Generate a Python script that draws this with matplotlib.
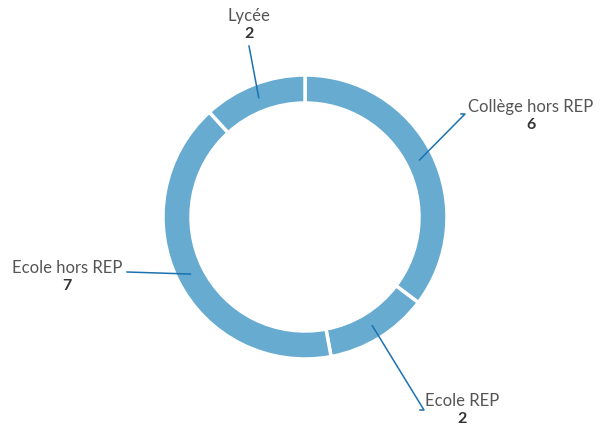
import numpy as np
import matplotlib.pyplot as plt

labels = ["Collège hors REP", "Ecole REP", "Ecole hors REP", "Lycée"]
values = [6, 2, 7, 2]

# label placement (pixels, y from top): text centre and leader-line elbow
text_pos = [(531, 107), (462, 401), (67, 268), (249, 16)]
elbows = [[(465, 115), (461, 115)], [(424, 411), (420, 411)], [(127, 273)], [(249, 47)]]

W, H = 616, 427
fig = plt.figure(figsize=(W / 100, H / 100), dpi=100)
ax = fig.add_axes([0, 0, 1, 1])
ax.set_xlim(0, W)
ax.set_ylim(0, H)
ax.set_aspect('equal')
ax.axis('off')

cx, cy = 305, H - 218
r_out, width = 142, 28
ring = '#67abd1'
line_c = '#1a72b0'

ax.pie(values, center=(cx, cy), radius=r_out, startangle=90, counterclock=False,
       colors=[ring] * len(values),
       wedgeprops=dict(width=width, edgecolor='white', linewidth=2.5))
ax.set_xlim(0, W)
ax.set_ylim(0, H)

total = sum(values)
cum = np.cumsum([0] + values)
r_mid = r_out - width / 2
for i, (lab, v) in enumerate(zip(labels, values)):
    a = np.deg2rad(90 - (cum[i] + v / 2) / total * 360)
    x0, y0 = cx + r_mid * np.cos(a), cy + r_mid * np.sin(a)
    pts = [(x0, y0)] + [(x, H - y) for x, y in elbows[i]]
    xs, ys = zip(*pts)
    ax.plot(xs, ys, color=line_c, lw=1.1)
    tx, ty = text_pos[i]
    ax.text(tx, H - ty, lab, ha='center', va='center', fontsize=12,
            family='Lato', color='#555555')
    ax.text(tx, H - ty - 18, str(v), ha='center', va='center', fontsize=11.5,
            family='Lato', fontweight='bold', color='#333333')

fig.savefig('out.png', dpi=100)
